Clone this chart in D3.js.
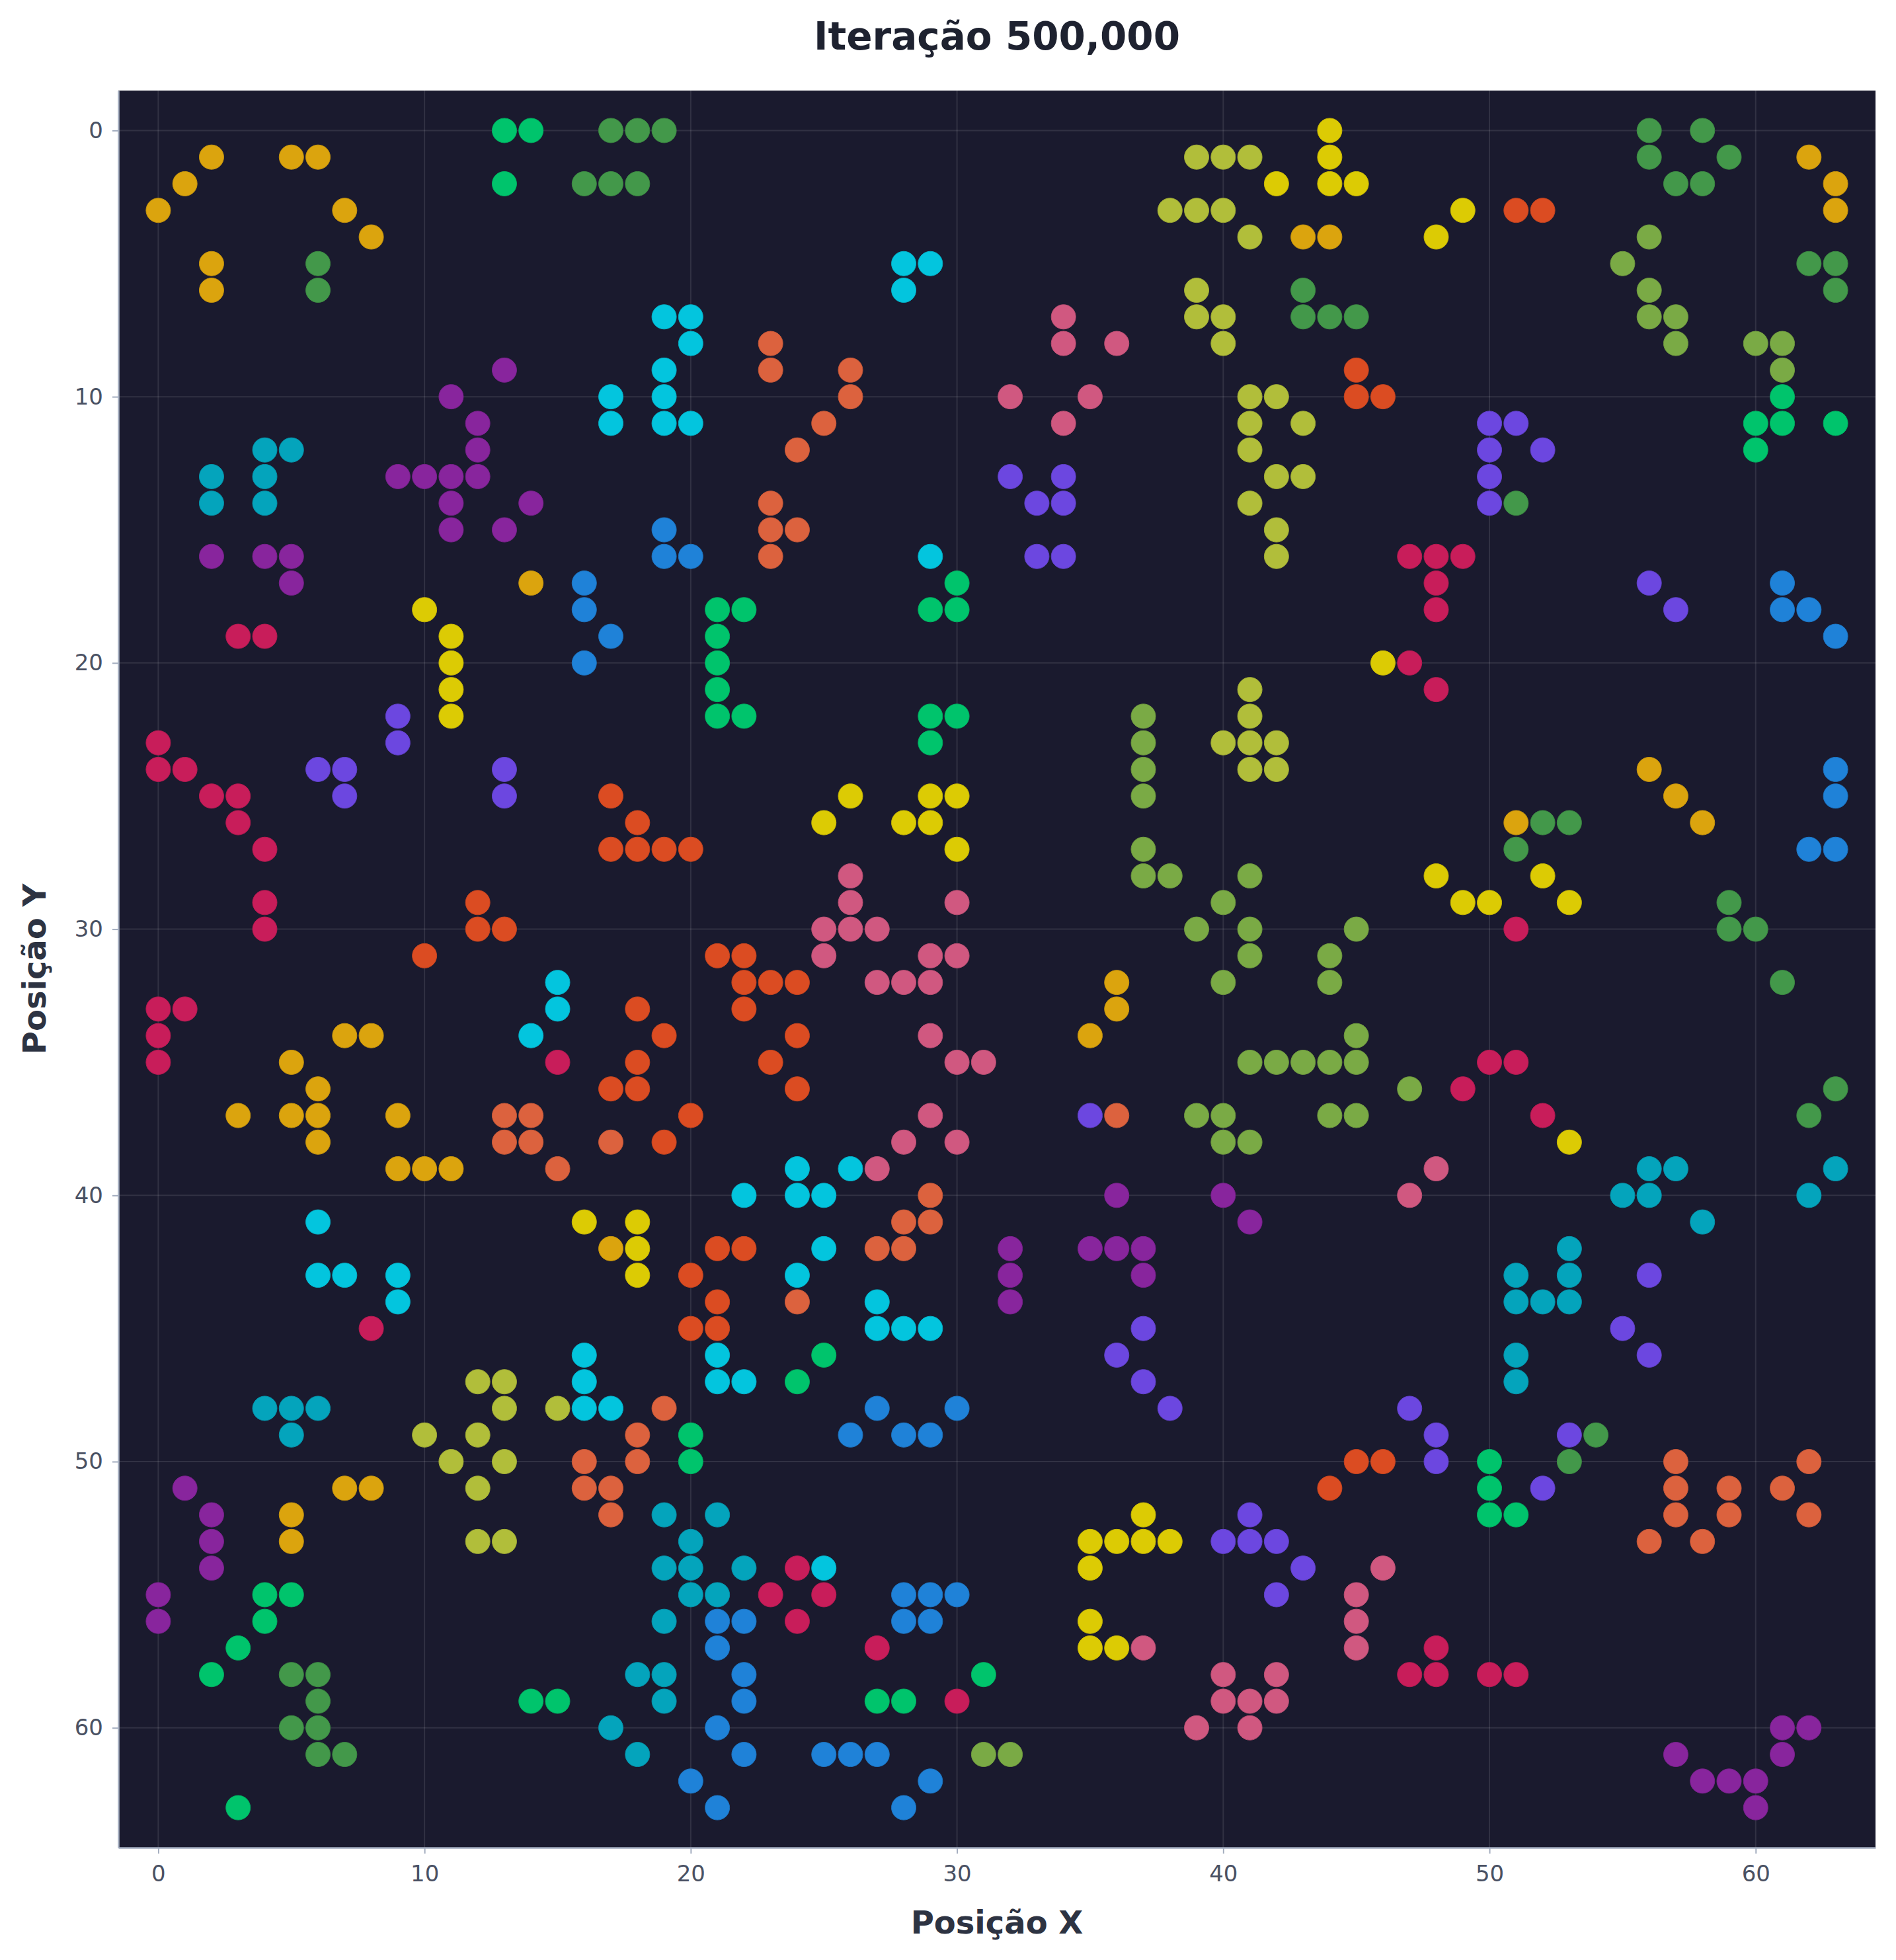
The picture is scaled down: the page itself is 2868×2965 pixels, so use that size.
<!DOCTYPE html>
<html>
<head>
<meta charset="utf-8">
<script src="https://cdn.jsdelivr.net/npm/d3@7"></script>
<style>
  html, body { margin: 0; padding: 0; background: #ffffff; }
  svg { display: block; }
</style>
</head>
<body>
<script>
// ---------------- DATA ----------------
const chartTitle = "Iteração 500,000";
const xLabel = "Posição X";
const yLabel = "Posição Y";
const tickValues = [0, 10, 20, 30, 40, 50, 60];

const species = ["orange", "green", "darkGreen", "purple", "teal", "crimson", "yellow",
  "cyan", "salmon", "orangeRed", "blue", "olive", "pink", "indigo", "yellowGreen"];

const orange = [[2,1],[5,1],[6,1],[1,2],[0,3],[7,3],[8,4],[2,5],[2,6],[14,17],[62,1],[63,2],[63,3],[43,4],[44,4],
  [56,24],[57,25],[51,26],[58,26],[36,32],[36,33],[35,34],[7,34],[8,34],[5,35],[6,36],[3,37],[5,37],[6,37],[9,37],
  [6,38],[9,39],[10,39],[11,39],[17,42],[7,51],[8,51],[5,52],[5,53]];
const green = [[13,0],[14,0],[13,2],[61,10],[60,11],[61,11],[63,11],[60,12],[30,17],[21,18],[22,18],[29,18],[30,18],
  [21,19],[21,20],[21,21],[21,22],[22,22],[29,22],[30,22],[29,23],[25,46],[24,47],[20,49],[20,50],[31,58],[27,59],[28,59],
  [50,50],[50,51],[50,52],[51,52],[4,55],[5,55],[4,56],[3,57],[2,58],[14,59],[15,59],[3,63]];
const darkGreen = [[17,0],[18,0],[19,0],[16,2],[17,2],[18,2],[6,5],[6,6],[56,0],[58,0],[56,1],[59,1],[57,2],[58,2],
  [62,5],[63,5],[63,6],[43,6],[43,7],[44,7],[45,7],[51,14],[52,26],[53,26],[51,27],[59,29],[59,30],[60,30],[61,32],
  [63,36],[62,37],[54,49],[53,50],[5,58],[6,58],[6,59],[5,60],[6,60],[6,61],[7,61]];
const purple = [[13,9],[11,10],[12,11],[12,12],[9,13],[10,13],[11,13],[12,13],[11,14],[14,14],[11,15],[13,15],[2,16],
  [4,16],[5,16],[5,17],[36,40],[40,40],[41,41],[32,42],[35,42],[36,42],[37,42],[32,43],[37,43],[32,44],[1,51],[2,52],
  [2,53],[2,54],[0,55],[0,56],[61,60],[62,60],[57,61],[61,61],[58,62],[59,62],[60,62],[60,63]];
const teal = [[4,12],[5,12],[2,13],[4,13],[2,14],[4,14],[56,39],[57,39],[63,39],[55,40],[56,40],[62,40],[58,41],[53,42],
  [51,43],[53,43],[51,44],[52,44],[53,44],[51,46],[51,47],[4,48],[5,48],[6,48],[5,49],[19,52],[21,52],[20,53],[19,54],
  [20,54],[22,54],[20,55],[21,55],[19,56],[18,58],[19,58],[19,59],[17,60],[18,61]];
const crimson = [[47,16],[48,16],[49,16],[48,17],[48,18],[3,19],[4,19],[47,20],[48,21],[0,23],[0,24],[1,24],[2,25],[3,25],
  [3,26],[4,27],[4,29],[4,30],[51,30],[0,33],[1,33],[0,34],[0,35],[15,35],[50,35],[51,35],[49,36],[52,37],[8,45],[24,54],
  [23,55],[25,55],[24,56],[27,57],[30,59],[48,57],[47,58],[48,58],[50,58],[51,58]];
const yellow = [[44,0],[44,1],[42,2],[44,2],[45,2],[49,3],[48,4],[10,18],[11,19],[11,20],[46,20],[11,21],[11,22],[26,25],
  [29,25],[30,25],[25,26],[28,26],[29,26],[30,27],[48,28],[52,28],[49,29],[50,29],[53,29],[53,38],[16,41],[18,41],[18,42],
  [18,43],[37,52],[35,53],[36,53],[37,53],[38,53],[35,54],[35,56],[35,57],[36,57]];
const cyan = [[28,5],[29,5],[28,6],[19,7],[20,7],[20,8],[19,9],[17,10],[19,10],[17,11],[19,11],[20,11],[29,16],[15,32],
  [15,33],[14,34],[24,39],[26,39],[22,40],[24,40],[25,40],[6,41],[25,42],[6,43],[7,43],[9,43],[9,44],[24,43],[27,44],
  [27,45],[28,45],[29,45],[16,46],[21,46],[16,47],[21,47],[22,47],[16,48],[17,48],[25,54]];
const salmon = [[23,8],[23,9],[26,9],[26,10],[25,11],[24,12],[23,14],[23,15],[24,15],[23,16],[13,37],[14,37],[36,37],
  [13,38],[14,38],[17,38],[15,39],[29,40],[28,41],[29,41],[27,42],[28,42],[24,44],[19,48],[18,49],[16,50],[18,50],[16,51],
  [17,51],[17,52],[57,50],[62,50],[57,51],[59,51],[61,51],[57,52],[59,52],[62,52],[56,53],[58,53]];
const orangeRed = [[51,3],[52,3],[45,9],[45,10],[46,10],[17,25],[18,26],[17,27],[18,27],[19,27],[20,27],[12,29],[12,30],
  [13,30],[10,31],[21,31],[22,31],[22,32],[23,32],[24,32],[18,33],[22,33],[19,34],[24,34],[18,35],[23,35],[17,36],[18,36],
  [24,36],[20,37],[19,38],[21,42],[22,42],[20,43],[21,44],[20,45],[21,45],[45,50],[46,50],[44,51]];
const blue = [[19,15],[19,16],[20,16],[16,17],[16,18],[17,19],[16,20],[61,17],[61,18],[62,18],[63,19],[63,24],[63,25],
  [62,27],[63,27],[27,48],[30,48],[26,49],[28,49],[29,49],[28,55],[29,55],[30,55],[21,56],[22,56],[28,56],[29,56],[21,57],
  [22,58],[22,59],[21,60],[22,61],[25,61],[26,61],[27,61],[20,62],[29,62],[21,63],[28,63]];
const olive = [[39,1],[40,1],[41,1],[38,3],[39,3],[40,3],[41,4],[39,6],[39,7],[40,7],[40,8],[41,10],[42,10],[41,11],[43,11],
  [41,12],[42,13],[43,13],[41,14],[42,15],[42,16],[41,21],[41,22],[40,23],[41,23],[42,23],[41,24],[42,24],[12,47],[13,47],
  [13,48],[15,48],[10,49],[12,49],[11,50],[13,50],[12,51],[12,53],[13,53]];
const pink = [[34,7],[34,8],[36,8],[32,10],[35,10],[34,11],[26,28],[26,29],[30,29],[25,30],[26,30],[27,30],[25,31],[29,31],
  [30,31],[27,32],[28,32],[29,32],[29,34],[30,35],[31,35],[29,37],[28,38],[30,38],[27,39],[48,39],[47,40],[46,54],[45,55],
  [45,56],[37,57],[45,57],[40,58],[42,58],[40,59],[41,59],[42,59],[39,60],[41,60]];
const indigo = [[32,13],[34,13],[33,14],[34,14],[33,16],[34,16],[50,11],[51,11],[50,12],[52,12],[50,13],[50,14],[56,17],
  [57,18],[9,22],[9,23],[6,24],[7,24],[13,24],[7,25],[13,25],[35,37],[56,43],[37,45],[55,45],[36,46],[56,46],[37,47],
  [38,48],[47,48],[48,49],[53,49],[48,50],[52,51],[41,52],[40,53],[41,53],[42,53],[43,54],[42,55]];
const yellowGreen = [[56,4],[55,5],[56,6],[56,7],[57,7],[57,8],[60,8],[61,8],[61,9],[37,22],[37,23],[37,24],[37,25],[37,27],
  [37,28],[38,28],[41,28],[40,29],[39,30],[41,30],[45,30],[41,31],[44,31],[40,32],[44,32],[45,34],[41,35],[42,35],[43,35],
  [44,35],[45,35],[47,36],[39,37],[40,37],[44,37],[45,37],[40,38],[41,38],[31,61],[32,61]];

const seriesData = { orange, green, darkGreen, purple, teal, crimson, yellow, cyan, salmon, orangeRed, blue, olive, pink, indigo, yellowGreen };

// ---------------- STYLE ----------------
const speciesColors = {
  orange: "#dba40e", green: "#00c46c", darkGreen: "#43984a", purple: "#88259d", teal: "#04a4bc",
  crimson: "#c81d5a", yellow: "#dccb04", cyan: "#03c5de", salmon: "#dc623e", orangeRed: "#db4c22",
  blue: "#1f82d8", olive: "#b1be3a", pink: "#d05880", indigo: "#6c47e0", yellowGreen: "#7aaa45"
};

const W = 2868, H = 2965;
const plot = { left: 179, top: 137, width: 2658, height: 2658 };

const svg = d3.select("body").append("svg")
  .attr("width", W).attr("height", H)
  .style("font-family", "'DejaVu Sans', sans-serif");

svg.append("rect").attr("width", W).attr("height", H).attr("fill", "#ffffff");

const x = d3.scaleLinear().domain([-1.5, 64.5]).range([plot.left, plot.left + plot.width]);
const y = d3.scaleLinear().domain([-1.5, 64.5]).range([plot.top, plot.top + plot.height]);

// Plot background
svg.append("rect")
  .attr("x", plot.left).attr("y", plot.top)
  .attr("width", plot.width).attr("height", plot.height)
  .attr("fill", "#1a1a2e");

// Grid
const grid = svg.append("g");
grid.selectAll(".gx").data(tickValues).join("line")
  .attr("x1", d => x(d)).attr("x2", d => x(d))
  .attr("y1", plot.top).attr("y2", plot.top + plot.height)
  .attr("stroke", "#ffffff").attr("stroke-opacity", 0.1).attr("stroke-width", 2);
grid.selectAll(".gy").data(tickValues).join("line")
  .attr("y1", d => y(d)).attr("y2", d => y(d))
  .attr("x1", plot.left).attr("x2", plot.left + plot.width)
  .attr("stroke", "#ffffff").attr("stroke-opacity", 0.1).attr("stroke-width", 2);

// Points
const pts = svg.append("g");
species.forEach(s => {
  pts.selectAll(null).data(seriesData[s]).join("circle")
    .attr("cx", d => x(d[0]))
    .attr("cy", d => y(d[1]))
    .attr("r", 18.5)
    .attr("fill", speciesColors[s])
    .attr("stroke", d3.color(speciesColors[s]).darker(0.3))
    .attr("stroke-width", 1);
});

// Axes
const xAxis = d3.axisBottom(x).tickValues(tickValues).tickSizeInner(9).tickSizeOuter(0).tickPadding(18).tickFormat(d3.format("d"));
const yAxis = d3.axisLeft(y).tickValues(tickValues).tickSizeInner(9).tickSizeOuter(0).tickPadding(14).tickFormat(d3.format("d"));

const gx = svg.append("g").attr("transform", `translate(0,${plot.top + plot.height})`).call(xAxis);
const gy = svg.append("g").attr("transform", `translate(${plot.left},0)`).call(yAxis);

[gx, gy].forEach(g => {
  g.select(".domain").attr("stroke", "#a3adbf").attr("stroke-width", 2.5);
  g.selectAll(".tick line").attr("stroke", "#a3adbf").attr("stroke-width", 2);
  g.selectAll(".tick text").attr("fill", "#4a5163").style("font-size", "34px")
    .style("font-family", "'DejaVu Sans', sans-serif");
});

// Labels
svg.append("text")
  .attr("x", plot.left + plot.width / 2).attr("y", 2925)
  .attr("text-anchor", "middle")
  .attr("fill", "#2d3342").style("font-size", "48px").style("font-weight", "bold")
  .text(xLabel);

svg.append("text")
  .attr("transform", `translate(69,${plot.top + plot.height / 2}) rotate(-90)`)
  .attr("text-anchor", "middle")
  .attr("fill", "#2d3342").style("font-size", "48px").style("font-weight", "bold")
  .text(yLabel);

svg.append("text")
  .attr("x", plot.left + plot.width / 2).attr("y", 75)
  .attr("text-anchor", "middle")
  .attr("fill", "#1e2230").style("font-size", "58px").style("font-weight", "bold")
  .text(chartTitle);
</script>
</body>
</html>
